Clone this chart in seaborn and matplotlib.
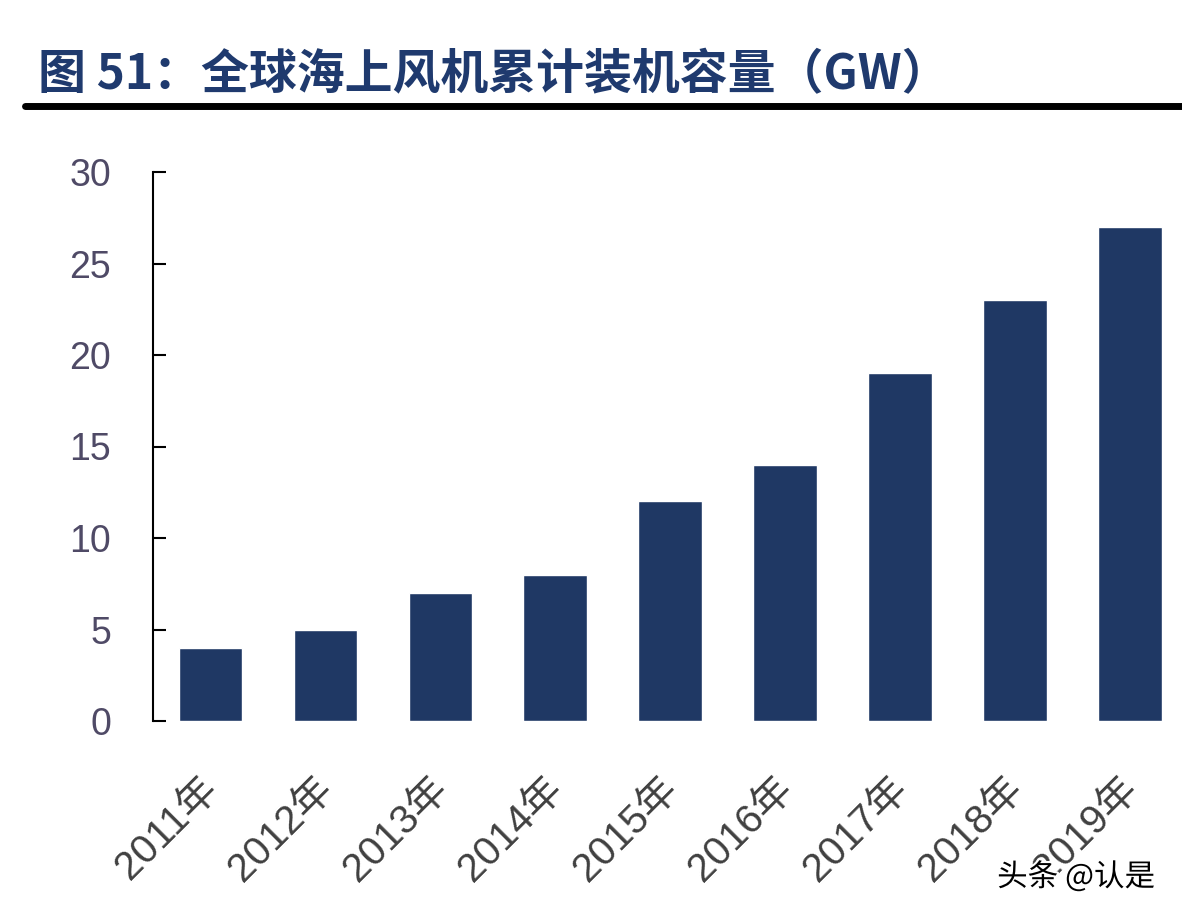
import seaborn as sns
import matplotlib
matplotlib.use("Agg")
import matplotlib.pyplot as plt
import matplotlib.transforms as mtransforms
from matplotlib.lines import Line2D
import matplotlib.patheffects as pe
import pandas as pd

years = ["2011年", "2012年", "2013年", "2014年", "2015年", "2016年", "2017年", "2018年", "2019年"]
capacity = [4, 5, 7, 8, 12, 14, 19, 23, 27]
title = "图 51：全球海上风机累计装机容量（GW）"
watermark = "头条 @认是"

sns.set_style("white")
plt.rcParams['font.family'] = ['Liberation Sans', 'Noto Sans CJK SC', 'DejaVu Sans']

df = pd.DataFrame({"year": years, "gw": capacity})

fig = plt.figure(figsize=(11.82, 9.16), dpi=100)
ax = fig.add_axes([153/1182, 1 - 721/916, 1 - 153/1182, (721 - 172)/916])

sns.barplot(data=df, x="year", y="gw", color="#1f3864", saturation=1, width=0.555, ax=ax)

ax.set_xlim(-0.5, 8.45)
ax.set_ylim(0, 30)
ax.set_yticks(range(0, 31, 5))
ax.set_xlabel("")
ax.set_ylabel("")
for s in ["top", "right", "bottom"]:
    ax.spines[s].set_visible(False)
ax.spines["left"].set_color("black")
ax.spines["left"].set_linewidth(1.5)
ax.tick_params(axis="y", left=True, direction="in", length=9, width=1.5, color="black",
               labelsize=27, labelcolor="#4f4a66", pad=30)
ax.tick_params(axis="x", bottom=False, length=0, labelsize=29, labelcolor="#404040", pad=35)

# nudge the rotated year labels a little to the left
shift = mtransforms.ScaledTranslation(-12 / 100, 0, fig.dpi_scale_trans)
for lab in ax.get_xticklabels():
    lab.set_rotation(45)
    lab.set_ha("right")
    lab.set_rotation_mode("anchor")
    lab.set_transform(lab.get_transform() + shift)

fig.text(38/1182, 1 - 75/916, title, fontsize=34.5, fontweight="bold", color="#1f3a6e",
         va="center", ha="left", family=["Noto Sans CJK SC", "DejaVu Sans"])
fig.add_artist(Line2D([25/1182, 1], [1 - 106/916, 1 - 106/916], color="black", linewidth=5))

fig.text(1155/1182, 1 - 877/916, watermark, fontsize=22, color="black", ha="right", va="center",
         family=["Noto Sans CJK SC", "DejaVu Sans"],
         path_effects=[pe.withStroke(linewidth=3, foreground="white")])

fig.savefig("out.png", dpi=100)
